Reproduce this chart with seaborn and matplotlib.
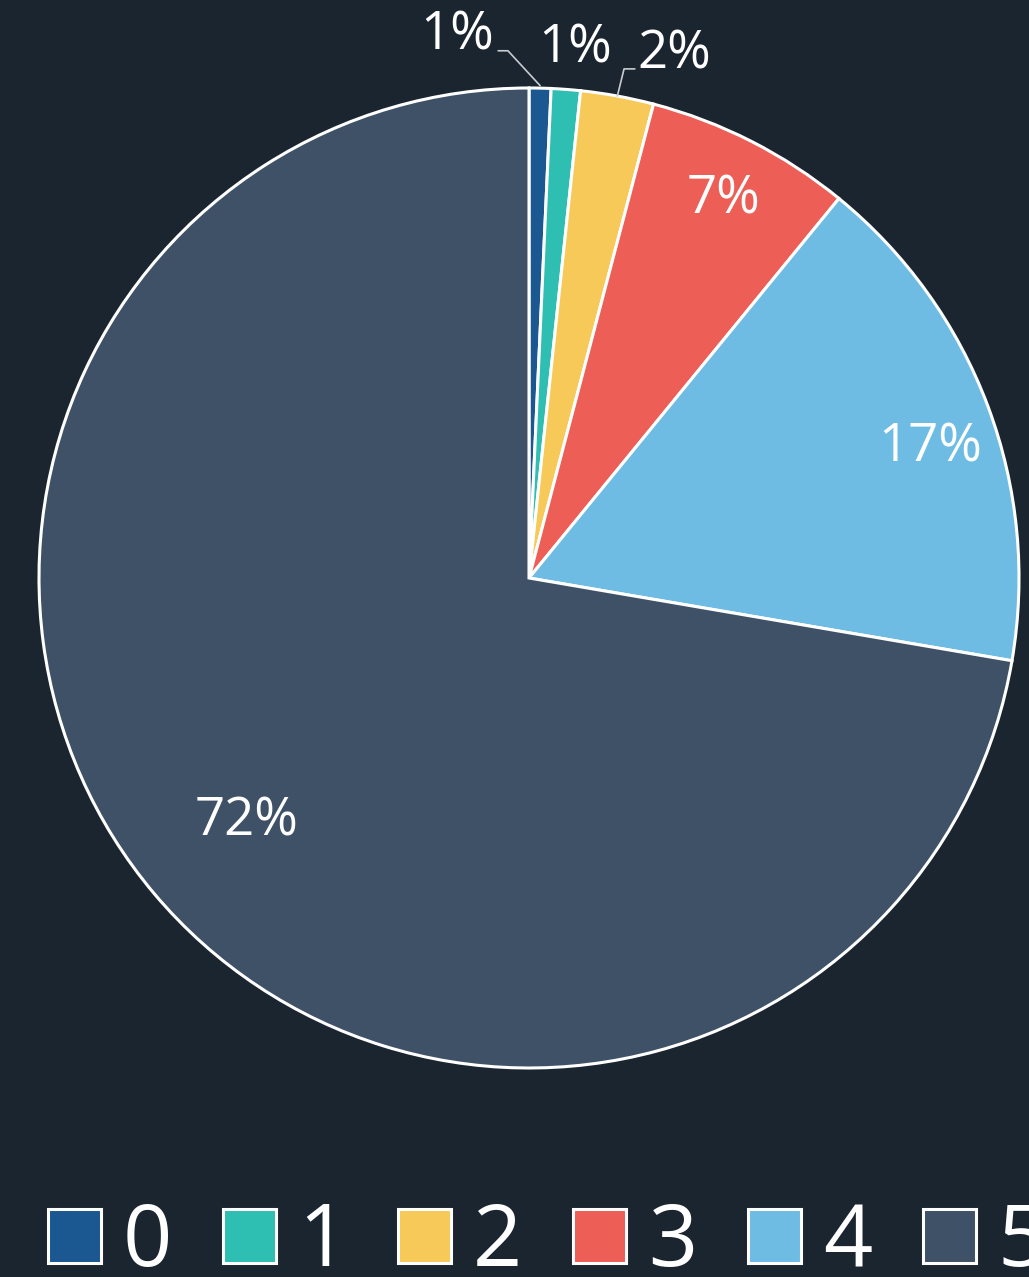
import numpy as np
import matplotlib
matplotlib.use("Agg")
import matplotlib.pyplot as plt
import seaborn as sns
from matplotlib.patches import Patch

# data (percent of total)
categories = ["0", "1", "2", "3", "4", "5"]
shares = [0.72, 0.96, 2.41, 6.81, 16.8, 72.3]
colors = ["#1b5791", "#2fbeb2", "#f6c958", "#ec5e56", "#6ebce4", "#3f5166"]
pct_labels = [f"{round(v)}%" for v in shares]

bg = "#1b2530"
sns.set_theme(style="white")
plt.rcParams["font.family"] = ["Open Sans", "DejaVu Sans"]

W, H = 1029, 1277
fig = plt.figure(figsize=(W / 100, H / 100), dpi=100, facecolor=bg)
ax = fig.add_axes([0, 0, 1, 1])
ax.set_facecolor(bg)

wedges, _ = ax.pie(shares, colors=colors, startangle=90, counterclock=False,
                   wedgeprops=dict(edgecolor="white", linewidth=2.2))

# pie centre at (529, 578) px from top-left, radius 490 px
R = 490
cx, cy = 529, 578
ax.set_aspect("auto")
ax.set_xlim(-cx / R, (W - cx) / R)
ax.set_ylim(-(H - cy) / R, cy / R)
ax.axis("off")

def mid_point(w, r, nudge=0.0):
    a = np.deg2rad((w.theta1 + w.theta2) / 2 + nudge)
    return r * np.cos(a), r * np.sin(a)

# labels inside the bigger slices: (radius, angle nudge)
inner = {3: (0.868, -0.3), 4: (0.862, -2.5), 5: (0.762, 0.6)}
for i, (r, nd) in inner.items():
    x, y = mid_point(wedges[i], r, nd)
    ax.text(x, y, pct_labels[i], color="white", fontsize=38,
            ha="center", va="center")

# small slices: labels outside, two with leader lines
line_kw = dict(color="#c8ccd0", lw=1.2)
x0, y0 = mid_point(wedges[0], 1.005)
ax.plot([x0, -0.043, -0.063], [y0, 1.076, 1.076], **line_kw)
ax.text(-0.147, 1.106, pct_labels[0], color="white", fontsize=38,
        ha="center", va="center")

ax.text(0.094, 1.080, pct_labels[1], color="white", fontsize=38,
        ha="center", va="center")

x2, y2 = mid_point(wedges[2], 1.0)
ax.plot([x2, 0.194, 0.216], [y2, 1.039, 1.039], **line_kw)
ax.text(0.296, 1.067, pct_labels[2], color="white", fontsize=38,
        ha="center", va="center")

# legend along the bottom
handles = [Patch(facecolor=c, edgecolor="white", linewidth=2.2) for c in colors]
fig.legend(handles, categories, loc="center left", ncol=6, frameon=False,
           bbox_to_anchor=(48 / W, 1 - 1244 / H), fontsize=62,
           labelcolor="white", handlelength=0.61, handleheight=0.6,
           handletextpad=0.26, columnspacing=0.59, borderpad=0,
           borderaxespad=0)

fig.savefig("out.png", dpi=100, facecolor=bg)
